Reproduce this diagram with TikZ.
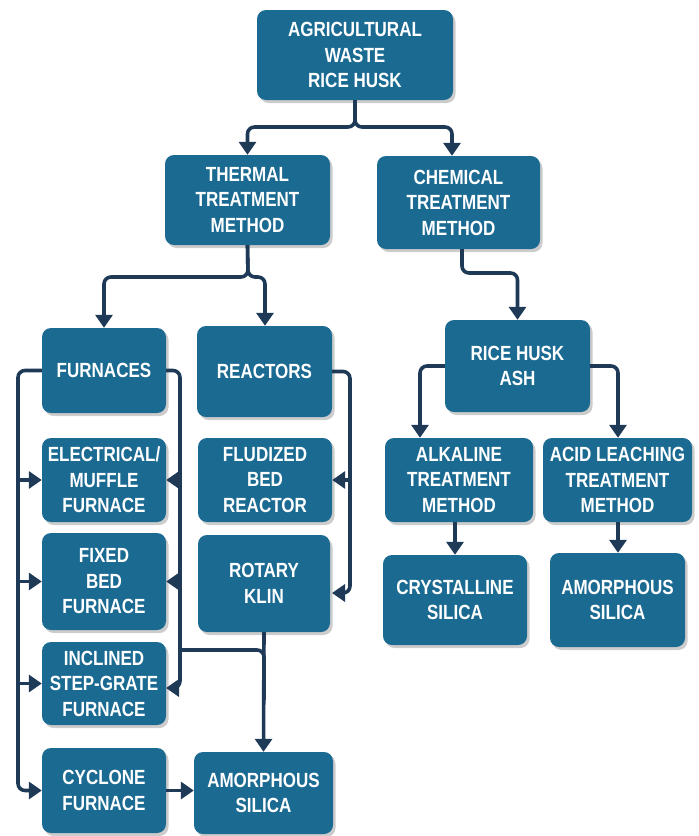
\documentclass[tikz,border=0pt]{standalone}
\usepackage{fontspec}
\newfontfamily\boxfont{Liberation Sans}[FakeStretch=0.83]
\usetikzlibrary{arrows.meta,shadows}
\definecolor{boxblue}{RGB}{27,106,146}
\definecolor{linenavy}{RGB}{30,58,86}
\tikzset{
  box/.style={draw=none, fill=boxblue, rounded corners=9pt, align=center, text=white,
    font=\boxfont\bfseries\fontsize{20.5}{25.5}\selectfont, inner sep=0pt,
    drop shadow={opacity=0.4, shadow xshift=2.5pt, shadow yshift=-3pt, fill=gray}},
  conn/.style={draw=linenavy, line width=3.6pt, rounded corners=7pt,
    -{Triangle[width=17pt,length=13pt]}},
  plain/.style={draw=linenavy, line width=3.6pt, rounded corners=7pt}
}
\begin{document}
\begin{tikzpicture}[x=1pt,y=-1pt]
\useasboundingbox (0,0) rectangle (699,836);
% boxes
\node[box, minimum width=196pt, minimum height=90pt] (top) at (355,55) {AGRICULTURAL\\WASTE\\RICE HUSK};
\node[box, minimum width=165pt, minimum height=90pt] (thermal) at (247.5,200) {THERMAL\\TREATMENT\\METHOD};
\node[box, minimum width=163pt, minimum height=93pt] (chemical) at (458.5,202.5) {CHEMICAL\\TREATMENT\\METHOD};
\node[box, minimum width=124pt, minimum height=85pt] (furnaces) at (104,370.5) {FURNACES};
\node[box, minimum width=135pt, minimum height=91pt] (reactors) at (264.5,371.5) {REACTORS};
\node[box, minimum width=124pt, minimum height=84pt] (electrical) at (104,480) {ELECTRICAL/\\MUFFLE\\FURNACE};
\node[box, minimum width=134pt, minimum height=84pt] (fludized) at (265,480) {FLUDIZED\\BED\\REACTOR};
\node[box, minimum width=124pt, minimum height=97pt] (fixed) at (104,581.5) {FIXED\\BED\\FURNACE};
\node[box, minimum width=132pt, minimum height=97pt] (rotary) at (264,583.5) {ROTARY\\KLIN};
\node[box, minimum width=124pt, minimum height=83pt] (inclined) at (104,683.5) {INCLINED\\STEP-GRATE\\FURNACE};
\node[box, minimum width=124pt, minimum height=85pt] (cyclone) at (104,790.5) {CYCLONE\\FURNACE};
\node[box, minimum width=139pt, minimum height=82pt] (amorphA) at (263.5,793) {AMORPHOUS\\SILICA};
\node[box, minimum width=145pt, minimum height=92pt] (rha) at (517.5,366) {RICE HUSK\\ASH};
\node[box, minimum width=148pt, minimum height=84pt] (alkaline) at (459,480) {ALKALINE\\TREATMENT\\METHOD};
\node[box, minimum width=149pt, minimum height=84pt] (acid) at (617.5,480) {ACID LEACHING\\TREATMENT\\METHOD};
\node[box, minimum width=144pt, minimum height=90pt] (crystal) at (455,600) {CRYSTALLINE\\SILICA};
\node[box, minimum width=135pt, minimum height=94pt] (amorphB) at (617.5,600) {AMORPHOUS\\SILICA};
% connectors top
\draw[conn] (top.south) -- (355,127) -| (thermal.north);
\draw[conn] (top.south) -- (355,127) -| (452,0 |- chemical.north);
% thermal
\draw[conn] (thermal.south) -- (248,277) -| (furnaces.north);
\draw[conn] (thermal.south) -- (248,277) -| (265,0 |- reactors.north);
% chemical
\draw[conn] (462,0 |- chemical.south) -- (462,273) -| (rha.north);
% furnaces left trunk
\draw[conn] (furnaces.west) -- (18,0 |- furnaces.west) -- (18,0 |- cyclone.west) -- (cyclone.west);
\draw[conn] (18,0 |- electrical.west) -- (electrical.west);
\draw[conn] (18,0 |- fixed.west) -- (fixed.west);
\draw[conn] (18,0 |- inclined.west) -- (inclined.west);
% furnaces right trunk
\draw[conn] (furnaces.east) -- (180,0 |- furnaces.east) -- (180,688) -- (166,688);
\draw[conn] (180,0 |- electrical.east) -- (electrical.east);
\draw[conn] (180,0 |- fixed.east) -- (fixed.east);
\draw[plain] (180,650) -| (264,700);
% reactors right trunk
\draw[conn] (reactors.east) -- (350,0 |- reactors.east) -- (350,593) -- (332,593);
\draw[conn] (350,0 |- fludized.east) -- (fludized.east);
% rotary down
\draw[conn] (rotary.south) -- (amorphA.north);
% cyclone to amorphous
\draw[conn] (cyclone.east) -- (amorphA.west |- cyclone.east);
% rha branches
\draw[conn] (rha.west) -| (420,0 |- alkaline.north);
\draw[conn] (rha.east) -| (618,0 |- acid.north);
% to silicas
\draw[conn] (alkaline.south -| crystal.north) -- (crystal.north);
\draw[conn] (618,0 |- acid.south) -- (618,0 |- amorphB.north);
\end{tikzpicture}
\end{document}
